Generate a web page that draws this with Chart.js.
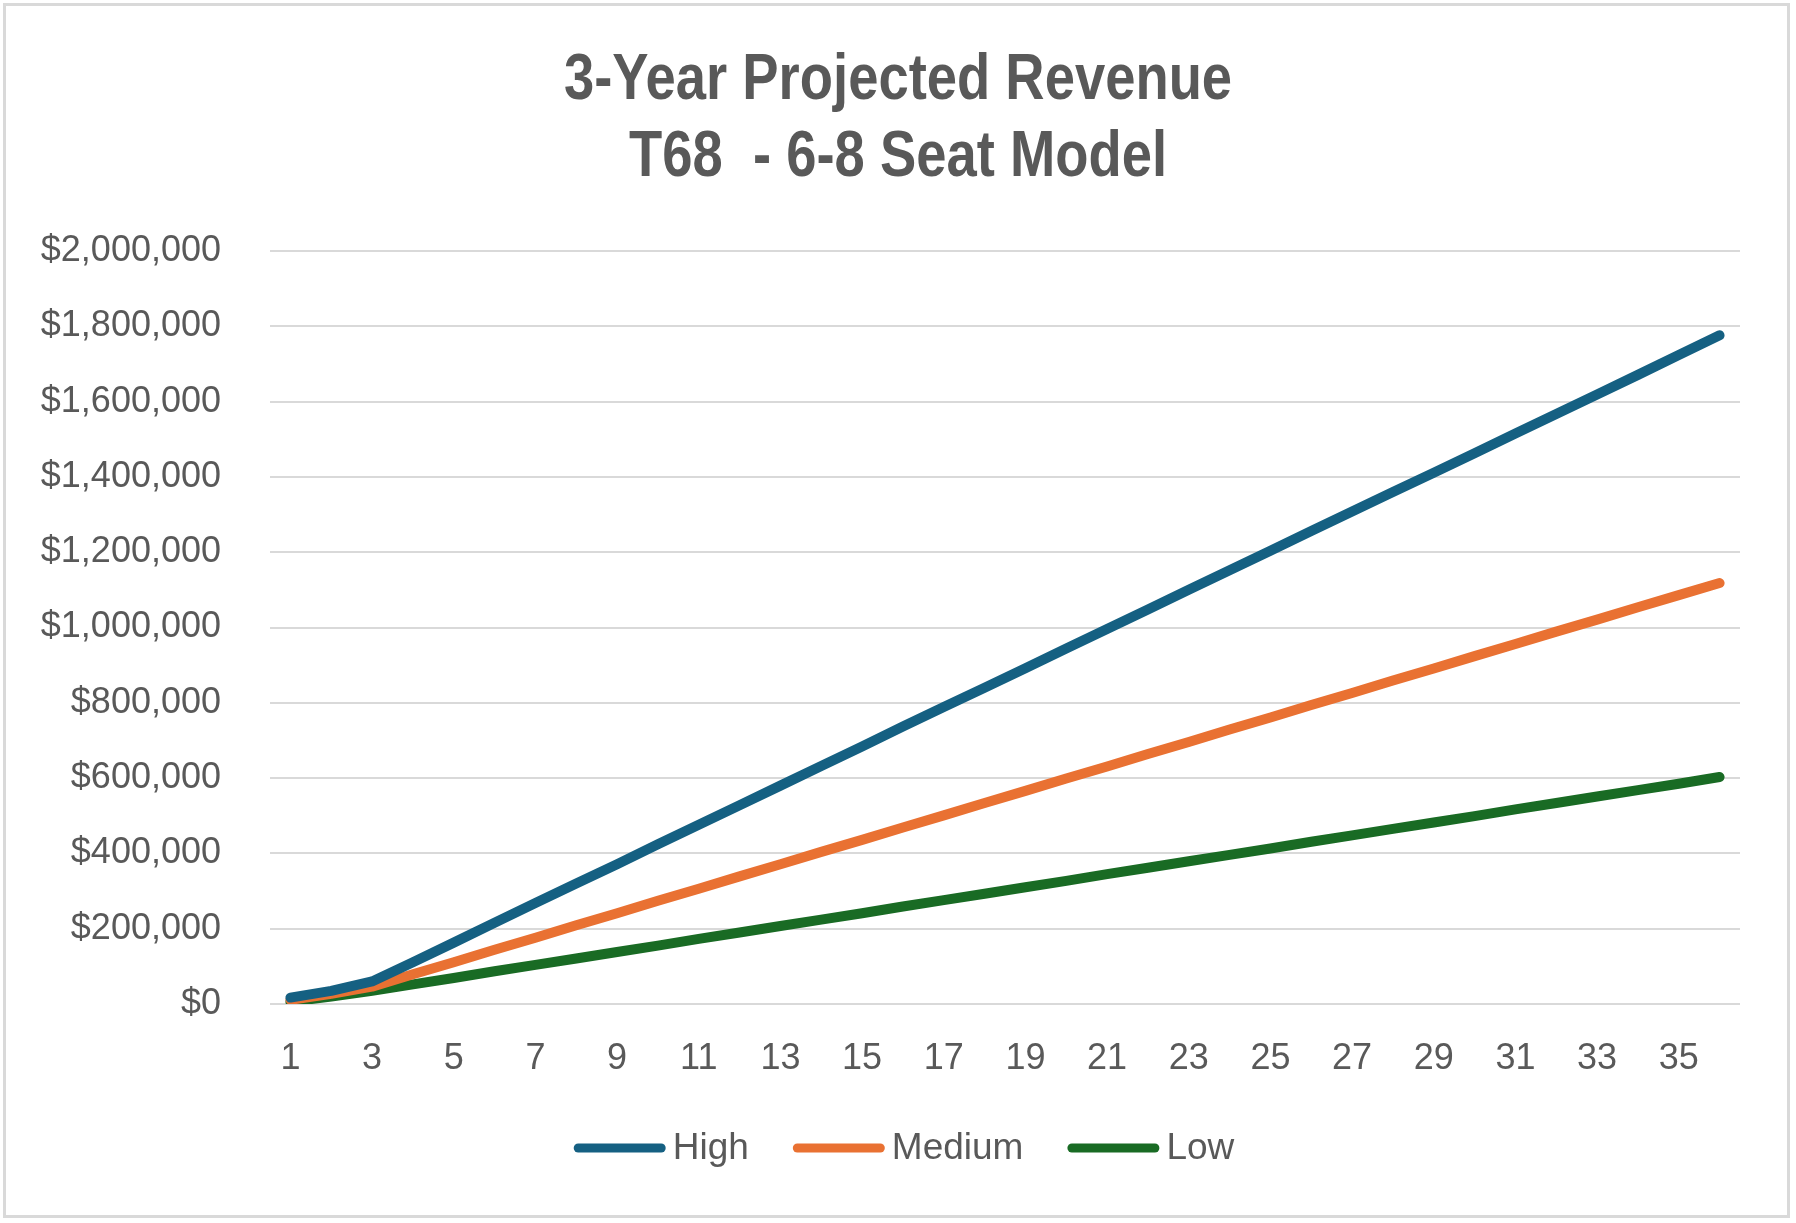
<!DOCTYPE html>
<html>
<head>
<meta charset="utf-8">
<script src="https://cdn.jsdelivr.net/npm/chart.js@4.4.1/dist/chart.umd.min.js"></script>
<style>
  html, body { margin: 0; padding: 0; background: #fff; }
  #frame {
    position: absolute; left: 3px; top: 3px; width: 1787px; height: 1215px;
    box-sizing: border-box; border: 3px solid #d9d9d9;
  }
  #revChart { position: absolute; left: 0; top: 0; }
</style>
</head>
<body>
<div id="frame"></div>
<canvas id="revChart" width="1796" height="1223"></canvas>
<script>
// ── Data ──────────────────────────────────────────────────
const monthLabels = ['1','2','3','4','5','6','7','8','9','10','11','12',
  '13','14','15','16','17','18','19','20','21','22','23','24',
  '25','26','27','28','29','30','31','32','33','34','35','36'];

const highRevenue = [17000, 35000, 60000, 111000, 163000, 216000, 268000, 320000, 371000, 424000,
  476000, 528000, 580000, 632000, 684000, 737000, 789000, 840000, 892000, 944000,
  996000, 1048000, 1100000, 1152000, 1204000, 1256000, 1308000, 1360000, 1411000, 1463000,
  1515000, 1567000, 1619000, 1671000, 1724000, 1776000];

const mediumRevenue = [11000, 27000, 46000, 79000, 111000, 144000, 176000, 209000, 241000, 274000,
  306000, 339000, 371000, 404000, 436000, 469000, 501000, 534000, 566000, 599000,
  631000, 664000, 696000, 729000, 761000, 794000, 826000, 859000, 891000, 924000,
  956000, 989000, 1021000, 1054000, 1086000, 1118000];

const lowRevenue = [6000, 20000, 35000, 52000, 69000, 87000, 104000, 121000, 138000, 155000,
  173000, 190000, 207000, 224000, 241000, 259000, 276000, 293000, 310000, 327000,
  345000, 362000, 379000, 396000, 413000, 431000, 448000, 465000, 482000, 499000,
  517000, 534000, 551000, 568000, 585000, 603000];

const titleLines = ['3-Year Projected Revenue', 'T68  - 6-8 Seat Model'];

// ── Styling ───────────────────────────────────────────────
const TEXT = '#595959';
const GRID = '#d9d9d9';
const BODY_FONT = "'Liberation Sans', Arial, sans-serif";

function series(label, data, color) {
  return {
    label, data,
    borderColor: color,
    backgroundColor: color,
    borderWidth: 10,
    borderCapStyle: 'round',
    borderJoinStyle: 'round',
    pointRadius: 0,
    pointHoverRadius: 0,
    tension: 0,
    fill: false,
  };
}

// Narrow bold title, like the Office "Aptos Narrow" heading
const narrowTitle = {
  id: 'narrowTitle',
  afterDraw(chart) {
    const ctx = chart.ctx;
    ctx.save();
    ctx.fillStyle = TEXT;
    ctx.font = `bold 64px ${BODY_FONT}`;
    ctx.textAlign = 'center';
    ctx.textBaseline = 'alphabetic';
    const baselines = [99, 176];
    titleLines.forEach((t, i) => {
      ctx.save();
      ctx.translate(898, baselines[i]);
      ctx.scale(0.85, 1);
      ctx.fillText(t, 0, 0);
      ctx.restore();
    });
    ctx.restore();
  },
};

// Excel-style legend: long round-capped line, text right next to it
const lineLegend = {
  id: 'lineLegend',
  afterDraw(chart) {
    const ctx = chart.ctx;
    const lineLen = 92, textGap = 7, itemGap = 44, cy = 1148;
    ctx.save();
    ctx.font = `37px ${BODY_FONT}`;
    const items = chart.data.datasets.map(ds => ({ ds, w: ctx.measureText(ds.label).width }));
    const total = items.reduce((s, it) => s + lineLen + textGap + it.w, 0) + itemGap * (items.length - 1);
    let x = 904 - total / 2;
    items.forEach(({ ds, w }) => {
      ctx.strokeStyle = ds.borderColor;
      ctx.lineWidth = 9;
      ctx.lineCap = 'round';
      ctx.beginPath();
      ctx.moveTo(x + 4.5, cy);
      ctx.lineTo(x + lineLen - 4.5, cy);
      ctx.stroke();
      ctx.fillStyle = TEXT;
      ctx.textAlign = 'left';
      ctx.textBaseline = 'middle';
      ctx.fillText(ds.label, x + lineLen + textGap, cy + 1);
      x += lineLen + textGap + w + itemGap;
    });
    ctx.restore();
  },
};

new Chart(document.getElementById('revChart'), {
  type: 'line',
  data: {
    labels: monthLabels,
    datasets: [
      series('High',   highRevenue,   '#156082'),
      series('Medium', mediumRevenue, '#e97132'),
      series('Low',    lowRevenue,    '#196b24'),
    ],
  },
  plugins: [narrowTitle, lineLegend],
  options: {
    responsive: false,
    devicePixelRatio: 1,
    animation: false,
    layout: { padding: { left: 0, right: 56, top: 251, bottom: 137 } },
    scales: {
      x: {
        offset: true,
        grid: { display: false },
        border: { display: false },
        afterFit: s => { s.height = 82; },
        ticks: {
          autoSkip: false,
          maxRotation: 0,
          padding: 25,
          color: TEXT,
          font: { family: BODY_FONT, size: 36 },
          callback: (v, i) => (i % 2 === 0 ? monthLabels[i] : ''),
        },
      },
      y: {
        min: 0,
        max: 2000000,
        afterFit: s => { s.width = 270; },
        grid: { color: GRID, lineWidth: 2, drawTicks: false },
        border: { display: false },
        ticks: {
          stepSize: 200000,
          padding: 49,
          color: TEXT,
          font: { family: BODY_FONT, size: 36 },
          callback: v => '$' + Number(v).toLocaleString('en-US'),
        },
      },
    },
    plugins: {
      title: { display: false },
      legend: { display: false },
      tooltip: { enabled: false },
    },
  },
});
</script>
</body>
</html>
